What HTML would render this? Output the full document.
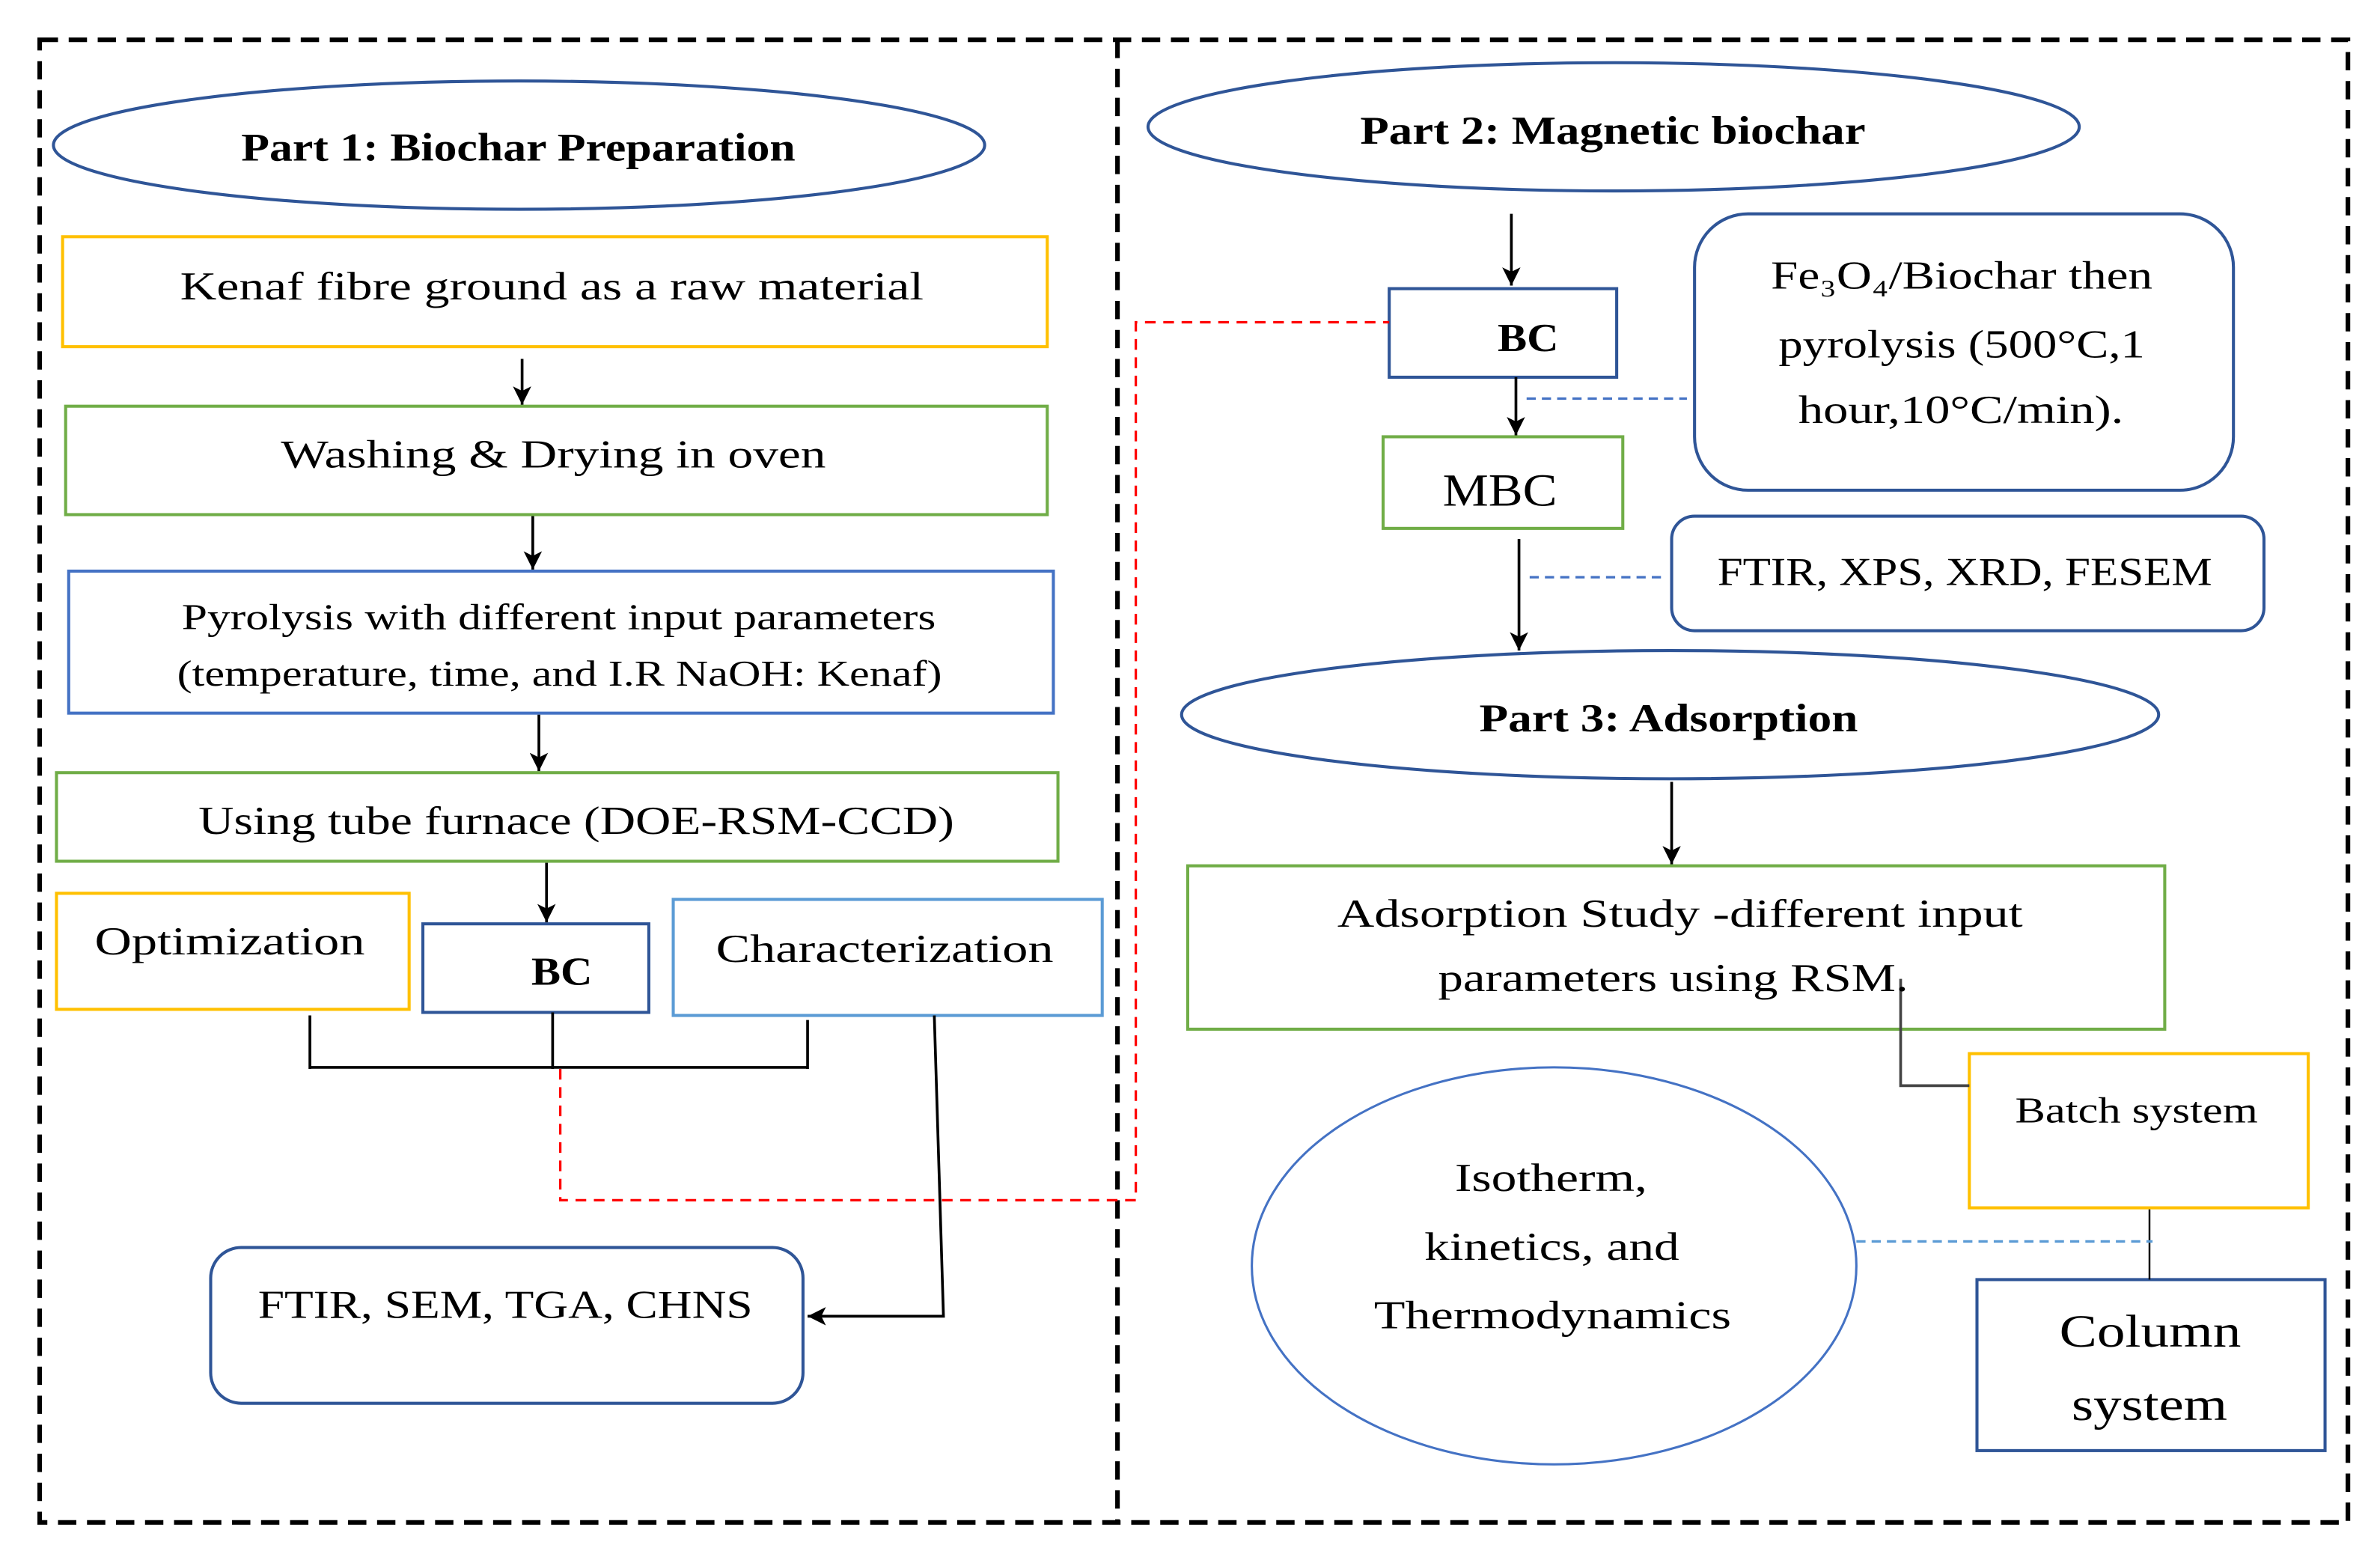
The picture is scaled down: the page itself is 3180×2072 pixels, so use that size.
<!DOCTYPE html>
<html><head><meta charset="utf-8"><style>html,body{margin:0;padding:0;background:#fff}svg{display:block}text{font-family:"Liberation Serif",serif;fill:#000}</style></head>
<body>
<svg width="3180" height="2072" viewBox="0 0 1559 1015.7" xmlns="http://www.w3.org/2000/svg">
<defs><marker id="a" markerWidth="12" markerHeight="12" refX="12" refY="6" orient="auto" markerUnits="userSpaceOnUse"><path d="M0,0 L12,6 L0,12 L3,6 z" fill="#000"/></marker></defs>
<g fill="none" stroke="#000" stroke-width="3" stroke-dasharray="12,7">
<rect x="26" y="26" width="1512" height="971"/>
<line x1="732" y1="26" x2="732" y2="997"/>
</g>
<g fill="none" stroke-width="2">
<ellipse cx="340" cy="95" rx="305" ry="42" stroke="#2f5597"/>
<rect x="41" y="155" width="645" height="72" stroke="#ffc000"/>
<rect x="43" y="266" width="643" height="71" stroke="#70ad47"/>
<rect x="45" y="374" width="645" height="93" stroke="#4472c4"/>
<rect x="37" y="506" width="656" height="58" stroke="#70ad47"/>
<rect x="37" y="585" width="231" height="76" stroke="#ffc000"/>
<rect x="277" y="605" width="148" height="58" stroke="#2f5597"/>
<rect x="441" y="589" width="281" height="76" stroke="#5b9bd5"/>
<rect x="138" y="817" width="388" height="102" rx="20" stroke="#2f5597"/>
<ellipse cx="1057" cy="83" rx="305" ry="42" stroke="#2f5597"/>
<rect x="910" y="189" width="149" height="58" stroke="#2f5597"/>
<rect x="1110" y="140" width="353" height="181" rx="35" stroke="#2f5597"/>
<rect x="906" y="286" width="157" height="60" stroke="#70ad47"/>
<rect x="1095" y="338" width="388" height="75" rx="15" stroke="#2f5597"/>
<ellipse cx="1094" cy="468" rx="320" ry="42" stroke="#2f5597"/>
<rect x="778" y="567" width="640" height="107" stroke="#70ad47"/>
<rect x="1290" y="690" width="222" height="101" stroke="#ffc000"/>
<rect x="1295" y="838" width="228" height="112" stroke="#2f5597"/>
<ellipse cx="1018" cy="829" rx="198" ry="130" stroke="#4472c4" stroke-width="1.5"/>
</g>
<g stroke="#000" stroke-width="1.8" fill="none">
<line x1="342" y1="235" x2="342" y2="265" marker-end="url(#a)"/>
<line x1="349" y1="338" x2="349" y2="373" marker-end="url(#a)"/>
<line x1="353" y1="468" x2="353" y2="505" marker-end="url(#a)"/>
<line x1="358" y1="565" x2="358" y2="604" marker-end="url(#a)"/>
<path d="M203,665 V700 M362,663 V700 M529,668 V700 M203,699 H529"/>
<path d="M612,665 L618,862 H529" marker-end="url(#a)"/>
<line x1="990" y1="140" x2="990" y2="187" marker-end="url(#a)"/>
<line x1="993" y1="247" x2="993" y2="285" marker-end="url(#a)"/>
<line x1="995" y1="353" x2="995" y2="426" marker-end="url(#a)"/>
<line x1="1095" y1="512" x2="1095" y2="566" marker-end="url(#a)"/>
<path d="M1245,641 V711 H1290" stroke="#444"/>
<line x1="1408" y1="792" x2="1408" y2="838" stroke-width="1.2"/>
</g>
<path d="M367,700 V786 H744 V211 H910" fill="none" stroke="#ff0000" stroke-width="1.6" stroke-dasharray="7,5"/>
<g stroke="#4472c4" stroke-width="1.6" stroke-dasharray="6,4">
<line x1="1000" y1="261" x2="1105" y2="261"/>
<line x1="1002" y1="378" x2="1092" y2="378"/>
<line x1="1216" y1="813" x2="1410" y2="813" stroke="#5b9bd5"/>
</g>
<g font-size="26">
<text x="158" y="105" font-weight="bold" textLength="363" lengthAdjust="spacingAndGlyphs">Part 1: Biochar Preparation</text>
<text x="118" y="196" textLength="487" lengthAdjust="spacingAndGlyphs">Kenaf fibre ground as a raw material</text>
<text x="184" y="306" textLength="357" lengthAdjust="spacingAndGlyphs">Washing &amp; Drying in oven</text>
<text x="119" y="412" font-size="24" textLength="494" lengthAdjust="spacingAndGlyphs">Pyrolysis with different input parameters</text>
<text x="116" y="449" font-size="24" textLength="501" lengthAdjust="spacingAndGlyphs">(temperature, time, and I.R NaOH: Kenaf)</text>
<text x="130" y="546" textLength="495" lengthAdjust="spacingAndGlyphs">Using tube furnace (DOE-RSM-CCD)</text>
<text x="62" y="625" textLength="177" lengthAdjust="spacingAndGlyphs">Optimization</text>
<text x="348" y="645" font-weight="bold" textLength="40" lengthAdjust="spacingAndGlyphs">BC</text>
<text x="469" y="630" textLength="221" lengthAdjust="spacingAndGlyphs">Characterization</text>
<text x="169" y="863" textLength="324" lengthAdjust="spacingAndGlyphs">FTIR, SEM, TGA, CHNS</text>
<text x="891" y="94" font-weight="bold" textLength="331" lengthAdjust="spacingAndGlyphs">Part 2: Magnetic biochar</text>
<text x="981" y="230" font-weight="bold" textLength="40" lengthAdjust="spacingAndGlyphs">BC</text>
<text x="1160" y="189" textLength="250" lengthAdjust="spacingAndGlyphs">Fe₃O₄/Biochar then</text>
<text x="1165" y="234" textLength="240" lengthAdjust="spacingAndGlyphs">pyrolysis (500°C,1</text>
<text x="1178" y="277" textLength="213" lengthAdjust="spacingAndGlyphs">hour,10°C/min).</text>
<text x="945" y="331" font-size="30" textLength="75" lengthAdjust="spacingAndGlyphs">MBC</text>
<text x="1125" y="383" textLength="324" lengthAdjust="spacingAndGlyphs">FTIR, XPS, XRD, FESEM</text>
<text x="969" y="479" font-weight="bold" textLength="248" lengthAdjust="spacingAndGlyphs">Part 3: Adsorption</text>
<text x="876" y="607" textLength="449" lengthAdjust="spacingAndGlyphs">Adsorption Study -different input</text>
<text x="942" y="649" textLength="308" lengthAdjust="spacingAndGlyphs">parameters using RSM.</text>
<text x="1320" y="735" font-size="24" textLength="159" lengthAdjust="spacingAndGlyphs">Batch system</text>
<text x="1349" y="882" font-size="30" textLength="119" lengthAdjust="spacingAndGlyphs">Column</text>
<text x="1357" y="930" font-size="30" textLength="102" lengthAdjust="spacingAndGlyphs">system</text>
<text x="953" y="780" textLength="126" lengthAdjust="spacingAndGlyphs">Isotherm,</text>
<text x="933" y="825" textLength="167" lengthAdjust="spacingAndGlyphs">kinetics, and</text>
<text x="900" y="870" textLength="234" lengthAdjust="spacingAndGlyphs">Thermodynamics</text>
</g>
</svg>
</body></html>
